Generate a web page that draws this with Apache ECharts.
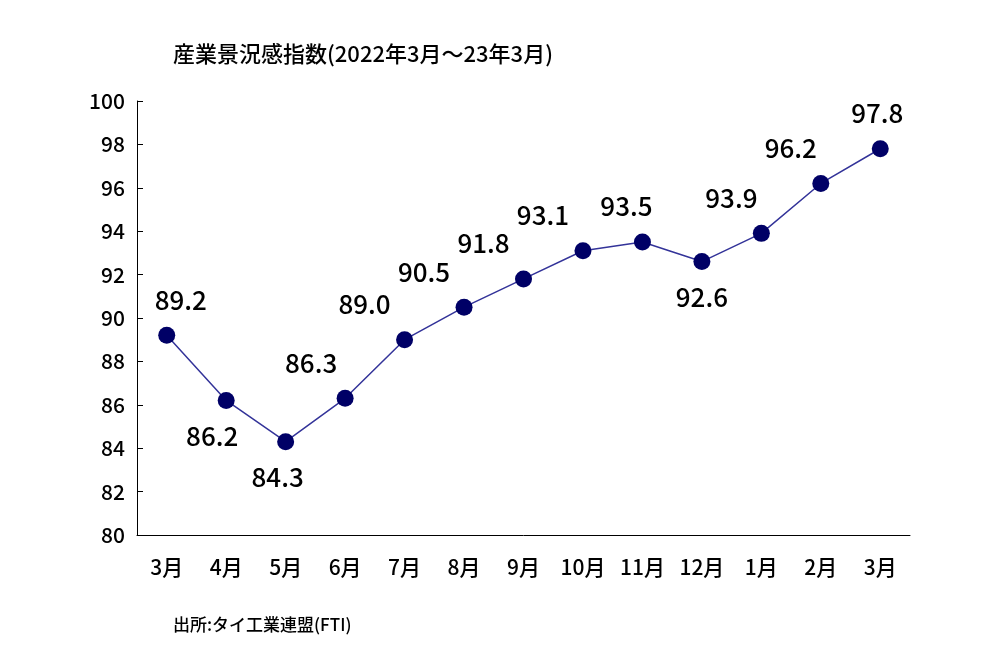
<!DOCTYPE html>
<html><head><meta charset="utf-8">
<script src="https://cdn.jsdelivr.net/npm/echarts@6/dist/echarts.min.js"></script>
<style>html,body{margin:0;background:#fff}#c{width:1000px;height:665px}</style>
</head><body><div id="c"></div>
<script>
const months = ["3月","4月","5月","6月","7月","8月","9月","10月","11月","12月","1月","2月","3月"];
const values = [89.2,86.2,84.3,86.3,89.0,90.5,91.8,93.1,93.5,92.6,93.9,96.2,97.8];
const below = [1,2,9];
const labelShiftX = [14,-14,-8,-34,-40,-40,-40,-40,-16,0,-30,-30,-3];
const font = "'Noto Sans CJK JP', sans-serif";

const chart = echarts.init(document.getElementById("c"));
chart.setOption({
  animation: false,
  title: [
    { text: "産業景況感指数(2022年3月～23年3月)", left: 168, top: 38,
      textStyle: { fontFamily: font, fontSize: 22, fontWeight: 500, color: "#000" } },
    { text: "出所:タイ工業連盟(FTI)", left: 168, top: 611,
      textStyle: { fontFamily: font, fontSize: 17, fontWeight: 500, color: "#000" } }
  ],
  grid: { left: 137, right: 90, top: 101, bottom: 130 },
  xAxis: {
    type: "category", data: months, boundaryGap: true,
    axisLine: { lineStyle: { color: "#000" } },
    axisTick: { inside: true, length: 6, lineStyle: { color: "#000" } },
    axisLabel: { fontFamily: font, fontSize: 21, fontWeight: 500, color: "#000", margin: 22, interval: 0 }
  },
  yAxis: {
    type: "value", min: 80, max: 100, interval: 2,
    axisLine: { show: true, lineStyle: { color: "#000" } },
    axisTick: { show: true, inside: true, length: 6, lineStyle: { color: "#000" } },
    splitLine: { show: false },
    axisLabel: { fontFamily: font, fontSize: 21, fontWeight: 500, color: "#000", margin: 12 }
  },
  series: [{
    type: "line",
    data: values.map((v, i) => ({
      value: v,
      label: { position: below.includes(i) ? "bottom" : "top", distance: 14,
        offset: [labelShiftX[i], 0] }
    })),
    symbol: "circle", symbolSize: 17,
    itemStyle: { color: "#000066" },
    lineStyle: { color: "#333399", width: 1.5 },
    label: { show: true, fontFamily: font, fontSize: 26, fontWeight: 500, color: "#000",
      formatter: p => p.value.toFixed(1) }
  }]
});
</script></body></html>
